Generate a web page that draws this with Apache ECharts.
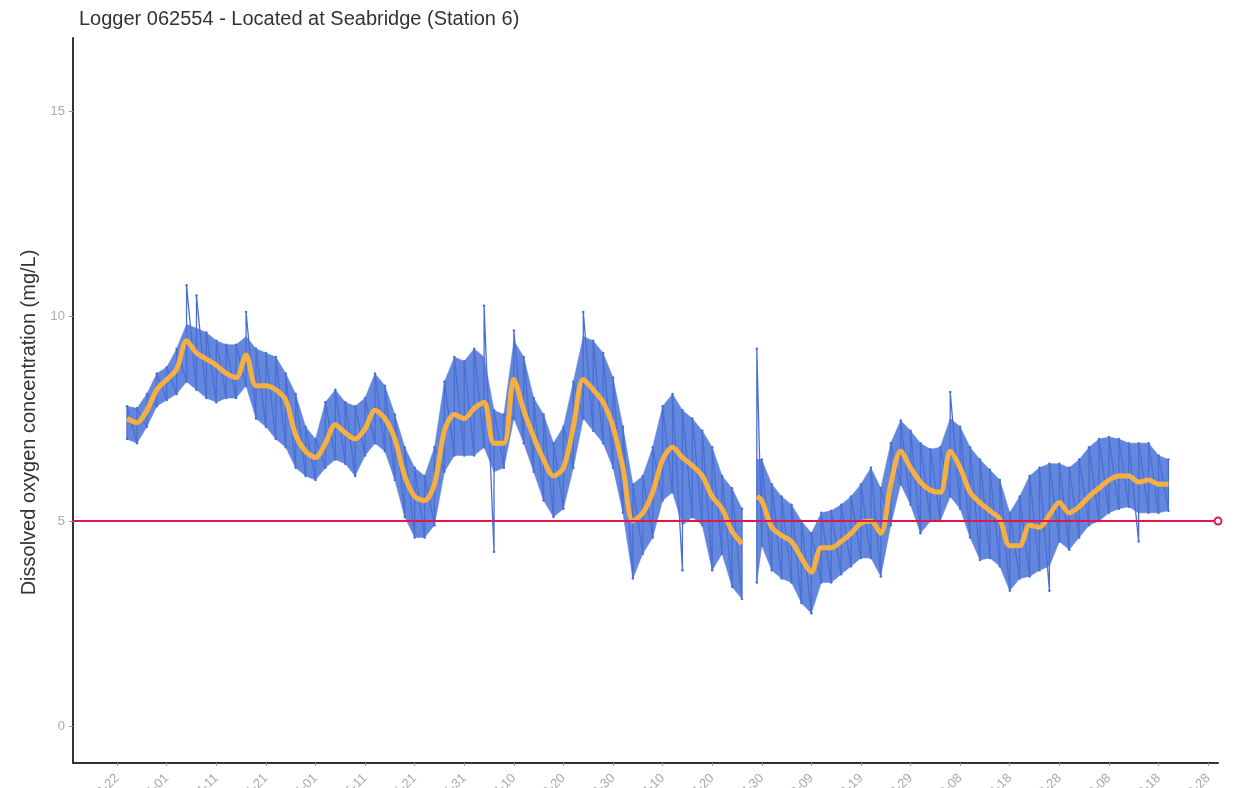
<!DOCTYPE html>
<html>
<head>
<meta charset="utf-8">
<title>Logger 062554</title>
<script src="https://cdn.jsdelivr.net/npm/echarts@6/dist/echarts.min.js"></script>
<style>
  html, body { margin: 0; padding: 0; background: #fff; }
  #chart { width: 1246px; height: 788px; }
</style>
</head>
<body>
<div id="chart"></div>
<script>
// day offsets counted from the first tick (2019-03-22)
const days = [2, 4, 6, 8, 10, 12, 14, 16, 18, 20, 22, 24, 26, 28, 30, 32, 34, 36, 38, 40,
  42, 44, 46, 48, 50, 52, 54, 56, 58, 60, 62, 64, 66, 68, 70, 72, 74, 76, 78, 80,
  82, 84, 86, 88, 90, 92, 94, 96, 98, 100, 102, 104, 106, 108, 110, 112, 114, 116, 118, 120,
  122, 124, 126, null, 129, 130, 132, 134, 136, 138, 140, 142, 144, 146, 148, 150, 152, 154, 156, 158,
  160, 162, 164, 166, 168, 170, 172, 174, 176, 178, 180, 182, 184, 186, 188, 190, 192, 194, 196, 198,
  200, 202, 204, 206, 208, 210, 212]

// smoothed (orange) dissolved oxygen, mg/L
const meanDO = [7.5, 7.4, 7.7, 8.2, 8.45, 8.7, 9.4, 9.1, 8.95, 8.8, 8.6, 8.5, 9.05, 8.3, 8.3, 8.2, 7.95, 7.1, 6.7, 6.55,
  6.9, 7.35, 7.15, 7.0, 7.25, 7.7, 7.5, 7.0, 6.1, 5.6, 5.5, 5.9, 7.2, 7.6, 7.5, 7.75, 7.9, 6.9, 6.9, 8.45,
  7.7, 7.05, 6.5, 6.1, 6.3, 7.3, 8.45, 8.2, 7.9, 7.3, 6.3, 5.0, 5.2, 5.7, 6.5, 6.8, 6.55, 6.35, 6.1, 5.6,
  5.3, 4.75, 4.45, null, 5.6, 5.5, 4.85, 4.65, 4.5, 4.1, 3.75, 4.35, 4.35, 4.5, 4.7, 4.95, 5.0, 4.7, 5.9, 6.7,
  6.3, 5.95, 5.75, 5.7, 6.7, 6.3, 5.7, 5.45, 5.25, 5.05, 4.4, 4.4, 4.9, 4.85, 5.15, 5.45, 5.2, 5.35, 5.6, 5.8,
  6.0, 6.1, 6.1, 5.95, 6.0, 5.9, 5.9]

// raw logger readings (blue): typical daily low and high
const lowDO = [7.0, 6.9, 7.3, 7.8, 7.95, 8.1, 8.4, 8.2, 8.0, 7.9, 8.0, 8.0, 8.3, 7.5, 7.3, 7.0, 6.8, 6.3, 6.1, 6.0,
  6.3, 6.5, 6.4, 6.1, 6.6, 6.9, 6.7, 6.0, 5.1, 4.6, 4.6, 4.9, 6.2, 6.6, 6.6, 6.6, 6.8, 6.2, 6.3, 7.5,
  6.9, 6.2, 5.5, 5.1, 5.3, 6.3, 7.5, 7.2, 6.9, 6.3, 5.2, 3.6, 4.2, 4.6, 5.5, 5.7, 4.9, 5.1, 4.9, 3.8,
  4.2, 3.4, 3.1, null, 3.5, 4.4, 3.8, 3.6, 3.5, 3.0, 2.75, 3.5, 3.5, 3.7, 3.9, 4.1, 4.1, 3.65, 4.9, 5.9,
  5.4, 4.7, 5.0, 5.0, 5.6, 5.3, 4.6, 4.05, 4.1, 3.9, 3.3, 3.6, 3.65, 3.8, 3.9, 4.5, 4.3, 4.6, 4.9, 5.0,
  5.2, 5.3, 5.35, 5.2, 5.2, 5.2, 5.25]
const highDO = [7.8, 7.75, 8.1, 8.6, 8.75, 9.2, 9.8, 9.7, 9.6, 9.4, 9.3, 9.3, 9.5, 9.2, 9.1, 9.0, 8.6, 8.1, 7.3, 7.0,
  7.9, 8.2, 7.9, 7.8, 8.0, 8.6, 8.3, 7.6, 6.8, 6.3, 6.1, 6.8, 8.4, 9.0, 8.9, 9.2, 9.0, 7.7, 7.6, 9.4,
  9.0, 8.0, 7.6, 6.9, 7.3, 8.4, 9.5, 9.4, 9.1, 8.5, 7.3, 5.9, 6.1, 6.8, 7.8, 8.1, 7.7, 7.5, 7.2, 6.8,
  6.1, 5.8, 5.3, null, 6.5, 6.5, 5.9, 5.6, 5.4, 5.0, 4.7, 5.2, 5.25, 5.4, 5.6, 5.9, 6.3, 5.8, 6.9, 7.45,
  7.2, 6.9, 6.75, 6.8, 7.5, 7.3, 6.8, 6.5, 6.25, 6.0, 5.2, 5.6, 6.1, 6.3, 6.4, 6.4, 6.3, 6.5, 6.8, 7.0,
  7.05, 7.0, 6.9, 6.9, 6.9, 6.6, 6.5]

// single readings that stick out of the band: [day, value]
const spikeHigh = [[14, 10.75], [16, 10.5], [26, 10.1], [74, 10.25], [80, 9.65], [94, 10.1], [129, 9.2], [168, 8.15]]
const spikeLow = [[76, 4.25], [114, 3.8], [188, 3.3], [206, 4.5]]

const xTicks = [0, 10, 20, 30, 40, 50, 60, 70, 80, 90, 100, 110, 120, 130, 140, 150, 160, 170, 180, 190, 200, 210, 220]
const yTicks = [0, 5, 10, 15]
const threshold = 5

const startDate = new Date(2019, 2, 22)
const pad = n => (n < 10 ? '0' : '') + n
const dayLabel = v => {
  const d = new Date(startDate.getFullYear(), startDate.getMonth(), startDate.getDate() + Math.round(v))
  return d.getFullYear() + '-' + pad(d.getMonth() + 1) + '-' + pad(d.getDate())
}

const hiMap = new Map(spikeHigh)
const loMap = new Map(spikeLow)

// blue trace: low then high for each day (spike readings where they occur), drawn as a zigzag
const rawPoints = []
days.forEach((d, i) => {
  if (d === null) { rawPoints.push([null, null]); return }
  rawPoints.push([d, loMap.has(d) ? loMap.get(d) : lowDO[i]])
  rawPoints.push([d, hiMap.has(d) ? hiMap.get(d) : highDO[i]])
})
const bandItems = []
days.forEach((d, i) => {
  if (d !== null) bandItems.push([d, lowDO[i], highDO[i]])
})
const meanPoints = days.map((d, i) => (d === null ? [null, null] : [d, meanDO[i]]))

const BLUE = '#4a6fd4'
const BAND = '#6287dd'
const FONT = 'Liberation Sans, Arial, sans-serif'

// band piece between one reading and the next (skipped across the logger gap)
const renderBand = (params, api) => {
  const next = params.dataIndexInside + 1
  if (next >= params.dataInsideLength) return null
  const d0 = api.value(0)
  const d1 = api.value(0, next)
  if (d1 - d0 > 2.5) return null
  const pts = [
    api.coord([d0, api.value(1)]),
    api.coord([d0, api.value(2)]),
    api.coord([d1, api.value(2, next)]),
    api.coord([d1, api.value(1, next)])
  ]
  return {
    type: 'polygon',
    shape: { points: pts },
    style: { fill: BAND, stroke: BAND, lineWidth: 0.5 }
  }
}

const chart = echarts.init(document.getElementById('chart'))

const option = {
  backgroundColor: '#ffffff',
  animation: false,
  title: {
    text: 'Logger 062554 - Located at Seabridge (Station 6)',
    left: 74,
    top: 4,
    textStyle: {
      fontFamily: FONT,
      fontSize: 20,
      fontWeight: 'normal',
      color: '#333'
    }
  },
  grid: {
    left: 73,
    right: 28,
    top: 38,
    bottom: 25,
    outerBoundsMode: 'none'
  },
  xAxis: {
    type: 'value',
    min: -8.9,
    max: 222,
    axisLine: { onZero: false, lineStyle: { color: '#333', width: 2 } },
    axisTick: { customValues: xTicks, length: 3, lineStyle: { color: '#999' } },
    splitLine: { show: false },
    axisLabel: {
      customValues: xTicks,
      rotate: 45,
      margin: 13,
      color: '#aaa',
      fontSize: 13,
      fontFamily: FONT,
      formatter: v => dayLabel(v)
    }
  },
  yAxis: {
    type: 'value',
    min: -0.9,
    max: 16.78,
    name: 'Dissolved oxygen concentration (mg/L)',
    nameLocation: 'middle',
    nameGap: 34,
    nameTextStyle: {
      fontFamily: FONT,
      fontSize: 20,
      color: '#333',
      padding: [0, 44, 0, 0]
    },
    axisLine: { show: true, onZero: false, lineStyle: { color: '#333', width: 2 } },
    axisTick: { show: true, customValues: yTicks, length: 4, lineStyle: { color: '#999' } },
    splitLine: { show: false },
    axisLabel: {
      customValues: yTicks,
      color: '#aaa',
      fontSize: 13,
      margin: 8,
      fontFamily: FONT
    }
  },
  series: [
    {
      name: 'band',
      type: 'custom',
      renderItem: renderBand,
      encode: { x: 0, y: [1, 2] },
      data: bandItems,
      silent: true,
      z: 1
    },
    {
      name: 'Logger readings',
      type: 'line',
      data: rawPoints,
      showSymbol: true,
      symbol: 'circle',
      symbolSize: 2.5,
      itemStyle: { color: BLUE },
      lineStyle: { color: BLUE, width: 1.3 },
      z: 2
    },
    {
      name: 'Daily mean',
      type: 'line',
      data: meanPoints,
      showSymbol: false,
      smooth: 0.3,
      lineStyle: { color: '#f7b040', width: 5 },
      z: 3,
      markLine: {
        silent: true,
        symbol: ['none', 'emptyCircle'],
        symbolSize: 7,
        label: { show: false },
        lineStyle: { color: '#e0174f', width: 2, type: 'solid' },
        data: [{ yAxis: threshold }]
      }
    }
  ]
}

chart.setOption(option)
window.addEventListener('resize', () => chart.resize())
</script>
</body>
</html>
